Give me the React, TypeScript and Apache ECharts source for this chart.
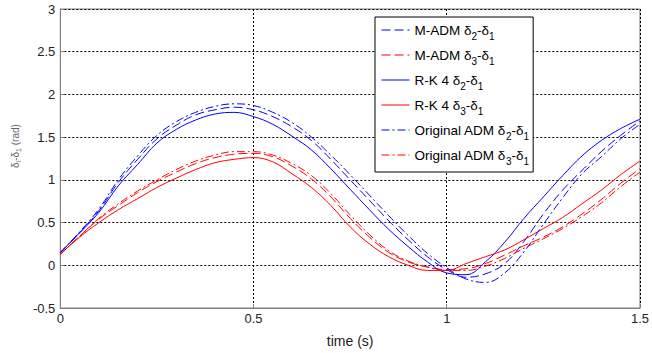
import React, { useEffect, useRef } from 'react';
import * as echarts from 'echarts';

const time = [0, 0.05, 0.1, 0.15, 0.2, 0.25, 0.3, 0.35, 0.4, 0.45, 0.5, 0.55, 0.6, 0.65, 0.7, 0.75, 0.8, 0.85, 0.9, 0.95, 1.0, 1.05, 1.1, 1.15, 1.2, 1.25, 1.3, 1.35, 1.4, 1.45, 1.5];

const madmD21 = [0.15, 0.38, 0.64, 0.97, 1.24, 1.48, 1.64, 1.76, 1.82, 1.85, 1.82, 1.74, 1.62, 1.46, 1.24, 1.0, 0.76, 0.52, 0.3, 0.1, -0.05, -0.14, -0.1, 0.02, 0.28, 0.6, 0.88, 1.11, 1.33, 1.52, 1.69];
const madmD31 = [0.13, 0.34, 0.54, 0.7, 0.85, 0.98, 1.09, 1.19, 1.26, 1.3, 1.31, 1.27, 1.16, 1.01, 0.8, 0.55, 0.33, 0.15, 0.04, -0.02, -0.05, -0.04, 0.02, 0.12, 0.23, 0.33, 0.45, 0.6, 0.77, 0.96, 1.13];
const rk4D21 = [0.15, 0.38, 0.62, 0.93, 1.18, 1.43, 1.59, 1.7, 1.77, 1.79, 1.74, 1.65, 1.51, 1.35, 1.13, 0.89, 0.65, 0.42, 0.22, 0.04, -0.09, -0.11, 0.04, 0.27, 0.55, 0.8, 1.05, 1.28, 1.46, 1.6, 1.71];
const rk4D31 = [0.13, 0.33, 0.5, 0.65, 0.78, 0.91, 1.02, 1.12, 1.2, 1.24, 1.26, 1.21, 1.07, 0.91, 0.7, 0.45, 0.25, 0.1, 0.0, -0.06, -0.06, 0.02, 0.1, 0.18, 0.3, 0.43, 0.56, 0.72, 0.88, 1.06, 1.22];
const origD21 = [0.15, 0.39, 0.66, 1.0, 1.28, 1.52, 1.68, 1.79, 1.86, 1.89, 1.87, 1.79, 1.67, 1.5, 1.29, 1.06, 0.82, 0.58, 0.35, 0.14, -0.03, -0.16, -0.2, -0.09, 0.16, 0.48, 0.79, 1.07, 1.27, 1.48, 1.65];
const origD31 = [0.13, 0.34, 0.55, 0.72, 0.87, 1.0, 1.12, 1.22, 1.29, 1.33, 1.33, 1.29, 1.19, 1.05, 0.84, 0.59, 0.36, 0.17, 0.05, -0.02, -0.06, -0.06, -0.01, 0.08, 0.2, 0.31, 0.43, 0.57, 0.73, 0.92, 1.09];

const xTicks = [0, 0.5, 1, 1.5];
const yTicks = [-0.5, 0, 0.5, 1, 1.5, 2, 2.5, 3];

const FONT = "'Liberation Sans', Arial, Helvetica, sans-serif";
const BLUE = '#0000ff';
const RED = '#ff0000';
const DASH = [9, 4];
const DASHDOT = [8, 3, 2, 3];

const seriesDefs = [
  { name: 'M-ADM δ2-δ1', data: madmD21, color: BLUE, dash: DASH },
  { name: 'M-ADM δ3-δ1', data: madmD31, color: RED, dash: DASH },
  { name: 'R-K 4 δ2-δ1', data: rk4D21, color: BLUE, dash: 'solid' },
  { name: 'R-K 4 δ3-δ1', data: rk4D31, color: RED, dash: 'solid' },
  { name: 'Original ADM δ2-δ1', data: origD21, color: BLUE, dash: DASHDOT },
  { name: 'Original ADM δ3-δ1', data: origD31, color: RED, dash: DASHDOT },
];

function richName(name: string): string {
  return name.replace(/δ(\d)/g, 'δ{s|$1}');
}

export default function App() {
  const ref = useRef<HTMLDivElement>(null);
  useEffect(() => {
    if (!ref.current) return;
    const chart = echarts.init(ref.current, undefined, { renderer: 'svg' });
    chart.setOption({
      animation: false,
      backgroundColor: '#ffffff',
      grid: {
        left: 59,
        right: 9,
        top: 9,
        bottom: 43,
        show: true,
        borderColor: '#808080',
        borderWidth: 1,
        backgroundColor: 'transparent',
      },
      xAxis: {
        type: 'value',
        min: 0,
        max: 1.5,
        interval: 0.5,
        name: 'time (s)',
        nameLocation: 'middle',
        nameGap: 26,
        nameTextStyle: { fontFamily: FONT, fontSize: 14, color: '#222' },
        axisLine: { show: true, onZero: false, lineStyle: { color: '#808080', width: 1 } },
        axisTick: { show: true, inside: true, length: 4, lineStyle: { color: '#808080' } },
        axisLabel: {
          fontFamily: FONT,
          fontSize: 13,
          color: '#222',
          margin: 4,
          formatter: (v: number) => (xTicks.includes(v) ? String(v) : ''),
        },
        splitLine: { show: true, lineStyle: { color: '#000', type: [2, 2], width: 1 } },
      },
      yAxis: {
        type: 'value',
        min: -0.5,
        max: 3,
        interval: 0.5,
        name: 'δ{s|i}-δ{s|1} (rad)',
        nameLocation: 'middle',
        nameRotate: 90,
        nameGap: 36,
        nameTextStyle: {
          fontFamily: FONT,
          fontSize: 10,
          color: '#666',
          padding: [0, 0, 0, 25],
          rich: {
            s: { fontFamily: FONT, fontSize: 7, color: '#666', lineHeight: 7, padding: [7, 0, 0, 0] },
          },
        },
        axisLine: { show: true, onZero: false, lineStyle: { color: '#808080', width: 1 } },
        axisTick: { show: true, inside: true, length: 4, lineStyle: { color: '#808080' } },
        axisLabel: {
          fontFamily: FONT,
          fontSize: 13,
          color: '#222',
          margin: 5,
          formatter: (v: number) => (yTicks.includes(v) ? String(v) : ''),
        },
        splitLine: { show: true, lineStyle: { color: '#000', type: [2, 2], width: 1 } },
      },
      legend: {
        orient: 'vertical',
        left: 375,
        top: 17,
        itemWidth: 28,
        itemHeight: 14,
        itemGap: 3,
        padding: [2, 4, 6, 6],
        backgroundColor: '#ffffff',
        borderColor: '#000000',
        borderWidth: 1,
        borderRadius: 0,
        selectedMode: false,
        itemStyle: { opacity: 0 },
        lineStyle: { width: 1 },
        formatter: (name: string) => richName(name),
        textStyle: {
          fontFamily: FONT,
          fontSize: 13.5,
          color: '#000',
          rich: {
            s: { fontFamily: FONT, fontSize: 10, color: '#000', lineHeight: 10, padding: [12, 0, 0, 0] },
          },
        },
        data: seriesDefs.map((s) => s.name),
      },
      series: seriesDefs.map((s) => ({
        name: s.name,
        type: 'line',
        data: time.map((t, i) => [t, s.data[i]]),
        smooth: 0.4,
        symbol: 'none',
        showSymbol: false,
        color: s.color,
        lineStyle: { color: s.color, width: 1, type: s.dash },
        emphasis: { disabled: true },
      })),
    });
    return () => chart.dispose();
  }, []);
  return <div ref={ref} style={{ width: 652, height: 353, position: 'absolute', left: 0, top: 0 }} />;
}
